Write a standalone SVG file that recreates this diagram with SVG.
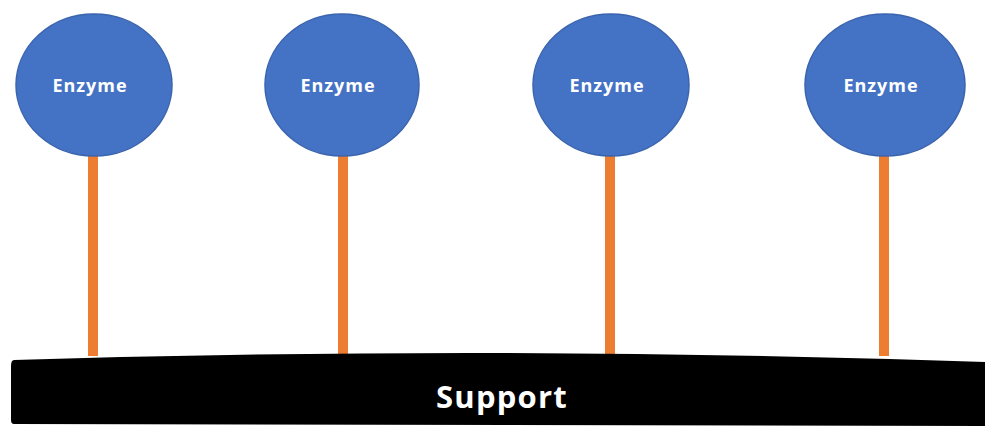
<svg xmlns="http://www.w3.org/2000/svg" width="985" height="426" viewBox="0 0 985 426">
<style>
.enz{fill:#4472C4;stroke:#3A64AE;stroke-width:1.5}
.lbl{font-family:"Open Sans","Liberation Sans",sans-serif;font-weight:bold;fill:#ffffff;text-anchor:middle}
.small{font-size:18px;letter-spacing:1px}
.big{font-size:31px;letter-spacing:1.2px}
.stick{fill:#ED7D31}
</style>
<rect width="985" height="426" fill="#ffffff"/>
<g id="connectors">
<rect class="stick" x="88" y="150" width="10" height="206"/>
<rect class="stick" x="338" y="150" width="10" height="206"/>
<rect class="stick" x="605" y="150" width="10" height="206"/>
<rect class="stick" x="879" y="150" width="10" height="206"/>
</g>
<g id="enzyme1">
<ellipse class="enz" cx="94" cy="85" rx="78" ry="71"/>
<text class="lbl small" x="90" y="92">Enzyme</text>
</g>
<g id="enzyme2">
<ellipse class="enz" cx="342" cy="85" rx="77" ry="71"/>
<text class="lbl small" x="338" y="92">Enzyme</text>
</g>
<g id="enzyme3">
<ellipse class="enz" cx="611" cy="85" rx="78" ry="71"/>
<text class="lbl small" x="607" y="92">Enzyme</text>
</g>
<g id="enzyme4">
<ellipse class="enz" cx="885" cy="85" rx="80" ry="71"/>
<text class="lbl small" x="881" y="92">Enzyme</text>
</g>
<g id="support">
<path d="M14,360 Q500,345 985,362 L985,426 L14,424 Q11,424 11,420 L11,366 Q11,360 14,360 Z" fill="#000000"/>
<text class="lbl big" x="502" y="408">Support</text>
</g>
</svg>
